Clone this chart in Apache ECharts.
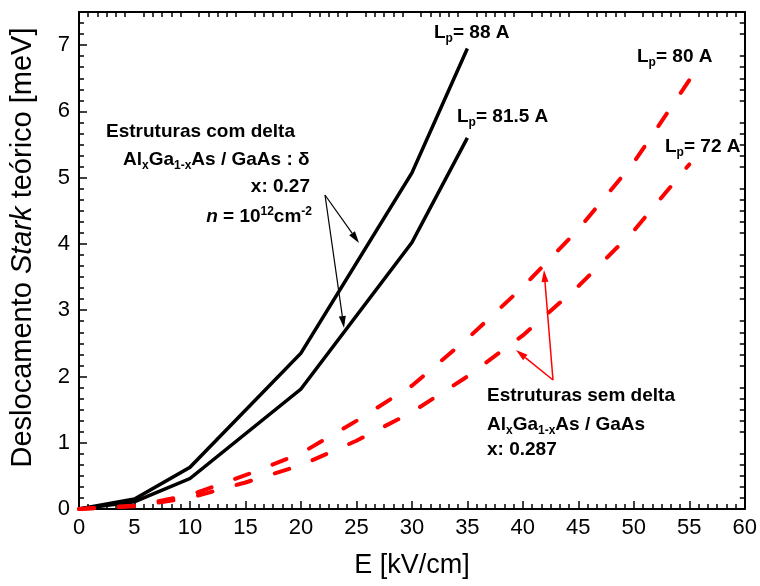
<!DOCTYPE html>
<html>
<head>
<meta charset="utf-8">
<script src="https://cdn.jsdelivr.net/npm/echarts@6/dist/echarts.min.js"></script>
<style>
  html, body { margin: 0; padding: 0; background: #ffffff; }
  #chart { width: 760px; height: 586px; }
</style>
</head>
<body>
<div id="chart"></div>
<script>
// Stark shift versus applied field
const fieldDelta = [0, 5, 10, 20, 30, 35];                 // kV/cm, structures with delta doping
const shiftDelta88 = [0, 0.15, 0.63, 2.35, 5.07, 6.95];     // meV, Lp = 88 A
const shiftDelta815 = [0, 0.11, 0.46, 1.81, 4.02, 5.60];    // meV, Lp = 81.5 A

const fieldPlain = [0, 5, 10, 15, 20, 25, 30, 35, 40, 45, 50, 55];              // kV/cm, no delta
const shiftPlain80 = [0, 0.05, 0.21, 0.51, 0.84, 1.33, 1.86, 2.57, 3.35, 4.22, 5.23, 6.47]; // Lp = 80 A
const shiftPlain72 = [0, 0.04, 0.17, 0.40, 0.66, 1.03, 1.46, 2.00, 2.62, 3.36, 4.20, 5.20]; // Lp = 72 A

const xTickValues = [0, 5, 10, 15, 20, 25, 30, 35, 40, 45, 50, 55, 60];
const yTickValues = [0, 1, 2, 3, 4, 5, 6, 7];
const xMax = 60, yMax = 7.5;
const minorSplit = 6;

function pairs(xs, ys) { return xs.map((x, i) => [x, ys[i]]); }
function minorValues(majors, max) {
  const step = (majors[1] - majors[0]) / minorSplit;
  const out = [];
  for (let k = 1; k * step < max - 1e-9; k++) {
    if (k % minorSplit !== 0) out.push(+(k * step).toFixed(6));
  }
  return out;
}
const xMinor = minorValues(xTickValues, xMax);
const yMinor = minorValues(yTickValues, yMax);

const AX = '#000000';
const SANS = "'Liberation Sans', Arial, sans-serif";

const chart = echarts.init(document.getElementById('chart'), null, { renderer: 'canvas' });

function baseAxis(extra) {
  return Object.assign({
    type: 'value', splitLine: { show: false },
    axisLine: { show: false }, axisLabel: { show: false },
    axisTick: { show: false }
  }, extra);
}

const xAxes = [
  baseAxis({
    position: 'bottom', min: 0, max: xMax, interval: 5,
    axisLine: { show: true, onZero: false, lineStyle: { color: AX, width: 2 } },
    axisTick: { show: true, inside: true, length: 8, customValues: xTickValues, lineStyle: { color: AX, width: 1.5 } },
    axisLabel: { show: true, customValues: xTickValues, margin: 8, color: '#000', fontSize: 22, fontFamily: SANS },
    name: 'E [kV/cm]', nameLocation: 'middle', nameGap: 43,
    nameTextStyle: { color: '#000', fontSize: 27, fontFamily: SANS }
  }),
  baseAxis({
    position: 'bottom', min: 0, max: xMax,
    axisTick: { show: true, inside: true, length: 5, customValues: xMinor, lineStyle: { color: AX, width: 1.5 } }
  }),
  baseAxis({
    position: 'top', min: 0, max: xMax,
    axisLine: { show: true, onZero: false, lineStyle: { color: AX, width: 2 } },
    axisTick: { show: true, inside: true, length: 5, customValues: xMinor, lineStyle: { color: AX, width: 1.5 } }
  })
];

const yAxes = [
  baseAxis({
    position: 'left', min: 0, max: yMax,
    axisLine: { show: true, onZero: false, lineStyle: { color: AX, width: 2 } },
    axisTick: { show: true, inside: true, length: 8, customValues: yTickValues, lineStyle: { color: AX, width: 1.5 } },
    axisLabel: { show: true, customValues: yTickValues, margin: 9, color: '#000', fontSize: 22, fontFamily: SANS },
    name: 'Deslocamento {i|Stark} teórico [meV]', nameLocation: 'middle', nameGap: 42, nameRotate: 90,
    nameTextStyle: {
      color: '#000', fontSize: 29, fontFamily: SANS, padding: [0, 0, 0, 26],
      rich: { i: { fontStyle: 'italic', color: '#000', fontSize: 29, fontFamily: SANS } }
    }
  }),
  baseAxis({
    position: 'left', min: 0, max: yMax,
    axisTick: { show: true, inside: true, length: 5, customValues: yMinor, lineStyle: { color: AX, width: 1.5 } }
  }),
  baseAxis({
    position: 'right', min: 0, max: yMax,
    axisLine: { show: true, onZero: false, lineStyle: { color: AX, width: 2 } },
    axisTick: { show: true, inside: true, length: 5, customValues: yMinor, lineStyle: { color: AX, width: 1.5 } }
  })
];

function curve(name, xs, ys, color, dashed) {
  return {
    name, type: 'line', xAxisIndex: 0, yAxisIndex: 0,
    data: pairs(xs, ys), symbol: 'none', silent: true, animation: false,
    lineStyle: dashed
      ? { color, width: 4, type: [15, 25], cap: 'round' }
      : { color, width: 3.5, join: 'miter' },
    z: 3
  };
}

// annotation text helpers
const B = 19;
function richBold(size) {
  return {
    s: { fontSize: 12, fontWeight: 'bold', fontFamily: SANS, fill: '#000', padding: [11, 0, 0, 0] },
    u: { fontSize: 12, fontWeight: 'bold', fontFamily: SANS, fill: '#000', padding: [0, 0, 11, 0] },
    i: { fontSize: size, fontWeight: 'bold', fontStyle: 'italic', fontFamily: SANS, fill: '#000' }
  };
}
function label(text, x, y, align) {
  return {
    type: 'text', x, y, silent: true, z: 10,
    style: {
      text, fontSize: B, fontWeight: 'bold', fontFamily: SANS, fill: '#000',
      align: align || 'left', verticalAlign: 'middle', rich: richBold(B)
    }
  };
}
function arrow(x1, y1, x2, y2, color, w, headLen, headW) {
  const a = Math.atan2(y2 - y1, x2 - x1);
  const bx = x2 - headLen * Math.cos(a), by = y2 - headLen * Math.sin(a);
  const nx = -Math.sin(a) * headW / 2, ny = Math.cos(a) * headW / 2;
  return [
    { type: 'line', silent: true, z: 9, shape: { x1, y1, x2: bx, y2: by }, style: { stroke: color, lineWidth: w } },
    { type: 'polygon', silent: true, z: 9, shape: { points: [[x2, y2], [bx + nx, by + ny], [bx - nx, by - ny]] }, style: { fill: color } }
  ];
}

const graphics = [
  label('L{s|p}= 88 A', 434, 33),
  label('L{s|p}= 81.5 A', 457, 117),
  label('L{s|p}= 80 A', 637, 57),
  label('L{s|p}= 72 A', 665, 147),
  label('Estruturas com delta', 106, 132),
  label('Al{s|x}Ga{s|1-x}As / GaAs : δ', 123, 160),
  label('x: 0.27', 310, 187, 'right'),
  label('{i|n} = 10{u|12}cm{u|-2}', 312, 217, 'right'),
  label('Estruturas sem delta', 487, 396),
  label('Al{s|x}Ga{s|1-x}As / GaAs', 487, 425),
  label('x: 0.287', 487, 450),
  ...arrow(325, 195, 359, 243, '#000', 1.2, 12, 7),
  ...arrow(325, 195, 344, 328, '#000', 1.2, 12, 7),
  ...arrow(553, 380, 544, 270, '#ff0000', 1.5, 12, 7),
  ...arrow(553, 380, 516, 350, '#ff0000', 1.5, 12, 7)
];

chart.setOption({
  backgroundColor: '#ffffff',
  animation: false,
  grid: { left: 75, right: 10, top: 12, bottom: 77, containLabel: false },
  xAxis: xAxes,
  yAxis: yAxes,
  series: [
    curve('Lp = 88 A', fieldDelta, shiftDelta88, '#000000', false),
    curve('Lp = 81.5 A', fieldDelta, shiftDelta815, '#000000', false),
    curve('Lp = 80 A', fieldPlain, shiftPlain80, '#ff0000', true),
    curve('Lp = 72 A', fieldPlain, shiftPlain72, '#ff0000', true)
  ],
  graphic: graphics
});
</script>
</body>
</html>
